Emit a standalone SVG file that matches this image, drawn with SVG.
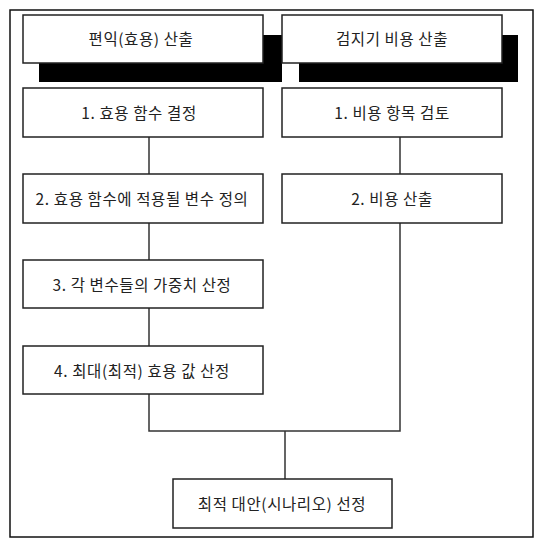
<svg xmlns="http://www.w3.org/2000/svg" width="548" height="547" viewBox="0 0 548 547">
<style>
.box{fill:#fff;stroke:#222;stroke-width:1.5}
.sh{fill:#000}
.t{font-family:"Noto Sans CJK KR","Noto Sans",sans-serif;font-size:15.5px;letter-spacing:0.6px;fill:#222;text-anchor:middle;dominant-baseline:central}
.c{fill:none;stroke:#333;stroke-width:1.5}
</style>
<rect x="0" y="0" width="548" height="547" fill="#fff"/>
<rect x="10" y="10" width="523" height="527" fill="none" stroke="#111" stroke-width="1.5"/>
<g id="connectors">
<path class="c" d="M149 137V174M149 223V260M149 308V346M149 394V431H400V223M400 137V174M285 431V479"/>
</g>
<g id="h1">
<rect class="sh" x="39" y="35" width="243" height="47"/>
<rect class="box" x="23" y="15" width="240" height="48"/>
<text class="t" x="141" y="38">편익(효용) 산출</text>
</g>
<g id="h2">
<rect class="sh" x="299" y="35" width="219" height="47"/>
<rect class="box" x="282" y="15" width="220" height="48"/>
<text class="t" x="392" y="38">검지기 비용 산출</text>
</g>
<g id="l1">
<rect class="box" x="23" y="88" width="240" height="49"/>
<text class="t" x="139" y="112">1. 효용 함수 결정</text>
</g>
<g id="l2">
<rect class="box" x="23" y="174" width="240" height="49"/>
<text class="t" x="142" y="198">2. 효용 함수에 적용될 변수 정의</text>
</g>
<g id="l3">
<rect class="box" x="23" y="260" width="240" height="48"/>
<text class="t" x="142" y="284">3. 각 변수들의 가중치 산정</text>
</g>
<g id="l4">
<rect class="box" x="23" y="346" width="240" height="48"/>
<text class="t" x="142" y="370">4. 최대(최적) 효용 값 산정</text>
</g>
<g id="r1">
<rect class="box" x="282" y="88" width="220" height="49"/>
<text class="t" x="392" y="112">1. 비용 항목 검토</text>
</g>
<g id="r2">
<rect class="box" x="282" y="174" width="220" height="49"/>
<text class="t" x="392" y="198">2. 비용 산출</text>
</g>
<g id="final">
<rect class="box" x="173" y="479" width="219" height="49"/>
<text class="t" x="282" y="503">최적 대안(시나리오) 선정</text>
</g>
</svg>
